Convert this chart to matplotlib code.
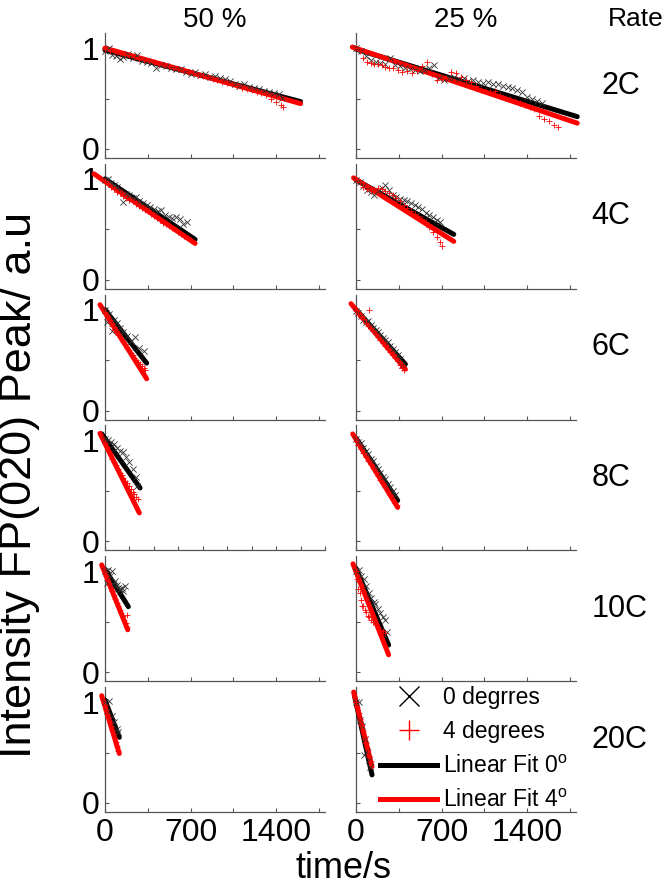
import numpy as np
import matplotlib
matplotlib.use('Agg')
import matplotlib.pyplot as plt
from matplotlib.lines import Line2D
from matplotlib.ticker import FixedLocator

plt.rcParams['font.family'] = ['Liberation Sans', 'DejaVu Sans']
plt.rcParams['mathtext.default'] = 'regular'

rates = ['2C', '4C', '6C', '8C', '10C', '20C']
socs = ['50 %', '25 %']

# ---- 50 % SOC, 0 degrees (black x) ----
t_50_2C_0 = [0, 30, 60, 90, 120, 150, 190, 230, 260, 300, 340, 380, 420, 460, 500, 540, 580, 620, 660, 700,
             740, 780, 820, 860, 900, 940, 980, 1020, 1060, 1100, 1140, 1180, 1220, 1260, 1300, 1340, 1380, 1420, 1450]
I_50_2C_0 = [0.97, 1.00, 0.93, 0.92, 0.89, 0.91, 0.94, 0.90, 0.93, 0.87, 0.86, 0.85, 0.80, 0.83, 0.82, 0.80, 0.79, 0.79, 0.76, 0.74,
             0.76, 0.73, 0.74, 0.71, 0.72, 0.70, 0.69, 0.67, 0.64, 0.62, 0.64, 0.61, 0.60, 0.59, 0.57, 0.56, 0.55, 0.54, 0.51]
t_50_4C_0 = [0, 25, 50, 75, 100, 125, 150, 175, 200, 225, 250, 280, 310, 340, 370, 400, 430, 460, 490, 520, 550, 580, 610, 640, 670]
I_50_4C_0 = [0.99, 1.00, 0.96, 0.94, 0.92, 0.88, 0.77, 0.85, 0.84, 0.81, 0.82, 0.78, 0.76, 0.74, 0.72, 0.70, 0.68, 0.69, 0.64, 0.62,
             0.61, 0.62, 0.60, 0.55, 0.57]
t_50_6C_0 = [0, 15, 30, 55, 75, 95, 120, 150, 180, 210, 245, 280, 315]
I_50_6C_0 = [1.00, 0.88, 0.96, 0.79, 0.90, 0.87, 0.82, 0.78, 0.74, 0.69, 0.73, 0.62, 0.59]
t_50_8C_0 = [0, 25, 50, 75, 100, 125, 150, 175, 200, 225, 250, 265]
I_50_8C_0 = [1.02, 1.01, 0.99, 0.97, 0.93, 0.90, 0.89, 0.84, 0.79, 0.72, 0.64, 0.55]
t_50_10C_0 = [0, 14, 27, 41, 55, 68, 82, 96, 110, 123, 137, 150, 164]
I_50_10C_0 = [1.00, 0.88, 1.01, 0.95, 1.00, 0.87, 0.90, 0.86, 0.83, 0.82, 0.83, 0.80, 0.85]
t_50_20C_0 = [0, 14, 35, 55, 75, 96, 110]
I_50_20C_0 = [1.00, 0.91, 1.01, 0.86, 0.80, 0.73, 0.70]

# ---- 50 % SOC, 4 degrees (red +) ----
t_50_2C_4 = [0, 40, 80, 120, 160, 200, 240, 280, 320, 360, 400, 440, 480, 520, 560, 600, 640, 680, 720, 760,
             800, 840, 880, 920, 960, 1000, 1040, 1080, 1120, 1160, 1200, 1240, 1280, 1320, 1360, 1400, 1440, 1460]
I_50_2C_4 = [0.99, 0.97, 0.96, 0.94, 0.93, 0.93, 0.91, 0.89, 0.88, 0.87, 0.86, 0.84, 0.83, 0.82, 0.80, 0.79, 0.78, 0.76, 0.75, 0.73,
             0.72, 0.71, 0.69, 0.68, 0.66, 0.65, 0.64, 0.62, 0.60, 0.59, 0.58, 0.56, 0.55, 0.53, 0.50, 0.47, 0.44, 0.42]
t_50_4C_4 = [0, 25, 50, 75, 100, 125, 150, 175, 200, 225, 250, 275, 300, 325, 350, 375, 400, 425, 450, 475,
             500, 525, 550, 575, 600, 625, 650, 675, 700]
I_50_4C_4 = [0.98, 0.95, 0.92, 0.90, 0.87, 0.86, 0.83, 0.81, 0.79, 0.78, 0.75, 0.73, 0.71, 0.69, 0.68, 0.65, 0.63, 0.61, 0.59, 0.56,
             0.55, 0.53, 0.51, 0.50, 0.47, 0.45, 0.43, 0.41, 0.39]
t_50_6C_4 = [0, 15, 30, 45, 60, 75, 90, 105, 120, 135, 150, 165, 180, 195, 210, 225, 240, 255, 270, 285, 300, 315, 330]
I_50_6C_4 = [0.98, 0.95, 0.90, 0.87, 0.84, 0.80, 0.78, 0.75, 0.73, 0.70, 0.68, 0.66, 0.62, 0.60, 0.57, 0.55, 0.52, 0.50, 0.48, 0.46,
             0.44, 0.42, 0.40]
t_50_8C_4 = [0, 15, 30, 45, 60, 75, 90, 105, 120, 135, 150, 165, 180, 195, 210, 225, 240, 255, 270]
I_50_8C_4 = [0.98, 0.94, 0.90, 0.87, 0.82, 0.79, 0.76, 0.72, 0.68, 0.66, 0.63, 0.60, 0.58, 0.55, 0.52, 0.49, 0.47, 0.44, 0.42]
t_50_10C_4 = [0, 12, 24, 36, 48, 60, 72, 84, 96, 108, 120, 132, 144, 156, 168, 177, 177]
I_50_10C_4 = [0.99, 0.95, 0.90, 0.86, 0.83, 0.80, 0.77, 0.73, 0.69, 0.66, 0.62, 0.59, 0.56, 0.52, 0.49, 0.45, 0.57]
t_50_20C_4 = [0, 10, 20, 30, 40, 50, 60, 70, 80, 90, 100, 110]
I_50_20C_4 = [0.97, 0.92, 0.88, 0.84, 0.80, 0.76, 0.72, 0.68, 0.64, 0.60, 0.56, 0.52]

# ---- 25 % SOC, 0 degrees (black x) ----
t_25_2C_0 = [0, 40, 80, 120, 160, 200, 240, 280, 320, 360, 400, 440, 480, 520, 560, 600, 640, 680, 720, 760,
             800, 840, 880, 920, 960, 1000, 1040, 1080, 1120, 1160, 1200, 1240, 1280, 1320, 1360, 1400, 1440, 1480, 1520]
I_25_2C_0 = [1.00, 0.97, 0.92, 0.88, 0.86, 0.85, 0.84, 0.90, 0.83, 0.82, 0.80, 0.79, 0.78, 0.77, 0.78, 0.80, 0.83, 0.70, 0.68, 0.70,
             0.71, 0.69, 0.70, 0.67, 0.68, 0.66, 0.65, 0.66, 0.64, 0.64, 0.62, 0.61, 0.60, 0.58, 0.56, 0.52, 0.50, 0.48, 0.46]
t_25_4C_0 = [0, 30, 60, 90, 120, 150, 180, 210, 240, 270, 300, 330, 360, 390, 420, 450, 480, 510, 540, 570, 600, 630, 660, 690]
I_25_4C_0 = [0.99, 0.97, 0.93, 0.89, 0.87, 0.84, 0.88, 0.91, 0.94, 0.89, 0.84, 0.82, 0.80, 0.79, 0.78, 0.76, 0.74, 0.72, 0.70, 0.66,
             0.64, 0.62, 0.59, 0.57]
t_25_6C_0 = [0, 20, 40, 60, 80, 100, 120, 140, 160, 180, 200, 220, 240, 260, 280, 300, 320, 340, 360, 377]
I_25_6C_0 = [0.99, 0.97, 0.94, 0.90, 0.88, 0.89, 0.85, 0.82, 0.80, 0.78, 0.75, 0.72, 0.70, 0.68, 0.64, 0.61, 0.58, 0.55, 0.51, 0.45]
t_25_8C_0 = [0, 20, 40, 60, 80, 100, 120, 140, 160, 180, 200, 220, 240, 260, 280, 300, 322]
I_25_8C_0 = [1.02, 0.99, 0.98, 0.93, 0.90, 0.87, 0.82, 0.80, 0.75, 0.72, 0.68, 0.64, 0.62, 0.57, 0.54, 0.50, 0.46]
t_25_10C_0 = [0, 22, 40, 63, 85, 104, 125, 145, 158, 180, 199, 220, 240, 254]
I_25_10C_0 = [1.00, 1.01, 0.95, 0.92, 0.85, 0.78, 0.74, 0.70, 0.68, 0.63, 0.59, 0.55, 0.52, 0.40]
t_25_20C_0 = [0, 22, 35, 50, 63, 76, 90, 104, 117]
I_25_20C_0 = [1.00, 1.00, 0.82, 0.76, 0.48, 0.63, 0.52, 0.43, 0.36]

# ---- 25 % SOC, 4 degrees (red +) ----
t_25_2C_4 = [0, 30, 60, 90, 120, 150, 180, 210, 240, 270, 300, 340, 380, 420, 460, 500, 540, 580, 620, 660,
             700, 740, 780, 820, 860, 900, 940, 980, 1020, 1060, 1100, 1140, 1180, 1220, 1260, 1300, 1340, 1380, 1420, 1460,
             1500, 1540, 1580, 1620, 1650]
I_25_2C_4 = [1.00, 0.97, 0.90, 0.86, 0.85, 0.84, 0.84, 0.83, 0.81, 0.80, 0.80, 0.78, 0.76, 0.77, 0.75, 0.78, 0.82, 0.86, 0.74, 0.68,
             0.69, 0.70, 0.76, 0.75, 0.71, 0.68, 0.66, 0.62, 0.58, 0.57, 0.56, 0.57, 0.53, 0.51, 0.50, 0.48, 0.46, 0.44, 0.42, 0.40,
             0.33, 0.30, 0.28, 0.24, 0.22]
t_25_4C_4 = [0, 30, 60, 90, 120, 150, 180, 210, 240, 270, 300, 330, 360, 390, 420, 450, 480, 510, 540, 570,
             600, 630, 660, 690, 705]
I_25_4C_4 = [1.00, 0.97, 0.92, 0.90, 0.88, 0.90, 0.91, 0.90, 0.88, 0.86, 0.84, 0.81, 0.78, 0.74, 0.71, 0.68, 0.65, 0.63, 0.60, 0.57,
             0.52, 0.47, 0.42, 0.37, 0.33]
t_25_6C_4 = [0, 20, 40, 60, 80, 104, 100, 120, 140, 160, 180, 200, 220, 240, 260, 280, 300, 320, 340, 360, 380, 390]
I_25_6C_4 = [1.00, 0.96, 0.93, 0.91, 0.87, 1.00, 0.84, 0.82, 0.79, 0.76, 0.73, 0.70, 0.68, 0.64, 0.61, 0.58, 0.55, 0.52, 0.49, 0.45,
             0.42, 0.40]
t_25_8C_4 = [0, 20, 40, 60, 80, 100, 120, 140, 160, 180, 200, 220, 240, 260, 280, 300, 320, 336]
I_25_8C_4 = [1.00, 0.96, 0.92, 0.88, 0.84, 0.80, 0.77, 0.73, 0.69, 0.65, 0.61, 0.58, 0.54, 0.50, 0.46, 0.42, 0.38, 0.36]
t_25_10C_4 = [0, 10, 20, 30, 40, 50, 60, 70, 80, 95, 110, 125, 140, 160, 180, 200, 220, 240]
I_25_10C_4 = [1.00, 0.92, 0.82, 0.78, 0.72, 0.66, 0.66, 0.62, 0.60, 0.56, 0.55, 0.52, 0.50, 0.48, 0.45, 0.42, 0.41, 0.39]
t_25_20C_4 = [0, 12, 24, 36, 48, 60, 72, 84, 96, 108, 120]
I_25_20C_4 = [1.00, 0.95, 0.89, 0.83, 0.77, 0.71, 0.65, 0.59, 0.53, 0.47, 0.42]

# linear fits: (t_start, t_end, intercept, slope), one per rate
fit_50_0 = [(0, 1600, 0.98, -0.000319), (0, 737, 1.00, -0.000814), (0, 341, 1.00, -0.001554),
            (-27, 287, 1.02, -0.00171), (0, 191, 1.02, -0.00194), (0, 117, 1.02, -0.00316)]
fit_50_4 = [(0, 1600, 1.00, -0.000344), (-90, 737, 0.975, -0.000834), (-41, 341, 0.971, -0.001924),
            (-41, 281, 0.97, -0.00245), (-27, 186, 0.982, -0.00302), (-27, 117, 0.956, -0.00398)]
fit_25_0 = [(0, 1810, 0.99, -0.00037), (0, 800, 0.99, -0.000675), (0, 404, 1.00, -0.001337),
            (0, 341, 1.023, -0.00181), (0, 267, 1.03, -0.00285), (-14, 131, 0.996, -0.00548)]
fit_25_4 = [(-30, 1810, 0.998, -0.00041), (-20, 800, 0.995, -0.000768), (-41, 404, 1.00, -0.00146),
            (-27, 341, 1.012, -0.00198), (-25, 267, 0.997, -0.00309), (-19, 131, 1.006, -0.00493)]

data_0 = [
    [(t_50_2C_0, I_50_2C_0), (t_50_4C_0, I_50_4C_0), (t_50_6C_0, I_50_6C_0),
     (t_50_8C_0, I_50_8C_0), (t_50_10C_0, I_50_10C_0), (t_50_20C_0, I_50_20C_0)],
    [(t_25_2C_0, I_25_2C_0), (t_25_4C_0, I_25_4C_0), (t_25_6C_0, I_25_6C_0),
     (t_25_8C_0, I_25_8C_0), (t_25_10C_0, I_25_10C_0), (t_25_20C_0, I_25_20C_0)],
]
data_4 = [
    [(t_50_2C_4, I_50_2C_4), (t_50_4C_4, I_50_4C_4), (t_50_6C_4, I_50_6C_4),
     (t_50_8C_4, I_50_8C_4), (t_50_10C_4, I_50_10C_4), (t_50_20C_4, I_50_20C_4)],
    [(t_25_2C_4, I_25_2C_4), (t_25_4C_4, I_25_4C_4), (t_25_6C_4, I_25_6C_4),
     (t_25_8C_4, I_25_8C_4), (t_25_10C_4, I_25_10C_4), (t_25_20C_4, I_25_20C_4)],
]
fits_0 = [fit_50_0, fit_25_0]
fits_4 = [fit_50_4, fit_25_4]

W, H = 666, 885
fig = plt.figure(figsize=(W / 100, H / 100), dpi=100)

col_x = [105, 356]
ax_w, ax_h = 220, 125
spine_col = '#555555'

for i, rate in enumerate(rates):
    bottom = 158 + 130.8 * i
    for j, soc in enumerate(socs):
        ax = fig.add_axes([col_x[j] / W, 1 - bottom / H, ax_w / W, ax_h / H])
        for (ts, te, b, m), col in ((fits_0[j][i], 'black'), (fits_4[j][i], 'red')):
            tt = np.array([ts, te], dtype=float)
            ax.plot(tt, b + m * tt, color=col, lw=3.6, solid_capstyle='round',
                    clip_on=False, zorder=3)
        t0, y0 = data_0[j][i]
        t4, y4 = data_4[j][i]
        ax.scatter(t0, y0, marker='x', s=20, c='#333333', linewidths=0.6, clip_on=False, zorder=4)
        ax.scatter(t4, y4, marker='+', s=24, c='red', linewidths=0.6, clip_on=False, zorder=4)

        ax.set_xlim(0, 1800)
        ax.set_ylim(-0.09, 1.15)
        for s in ['top', 'right']:
            ax.spines[s].set_visible(False)
        for s in ['left', 'bottom']:
            ax.spines[s].set_color(spine_col)
            ax.spines[s].set_linewidth(0.9)

        ax.set_yticks([0, 1])
        ax.yaxis.set_minor_locator(FixedLocator([0.5]))
        if i == 3 and j == 0:
            ax.set_xticks(range(0, 1801, 200))
        else:
            ax.set_xticks([0, 700, 1400])
            ax.xaxis.set_minor_locator(FixedLocator([350, 1050, 1750]))
        ax.tick_params(which='both', direction='in', length=3, width=0.8, color=spine_col,
                       labelsize=23, pad=4)
        if j == 1:
            ax.set_yticklabels([])
        if i < len(rates) - 1:
            ax.set_xticklabels([])

        if j == 1:
            ax.text(1.115 if i == 0 else 1.07, 0.58, rate, transform=ax.transAxes,
                    fontsize=22, ha='left', va='center')
        if i == 0:
            ax.text(0.5, 1.0, soc, transform=ax.transAxes, fontsize=20,
                    ha='center', va='bottom')
        if i == len(rates) - 1 and j == 1:
            handles = [
                Line2D([], [], ls='none', marker='x', color='black', markersize=14, mew=1.0),
                Line2D([], [], ls='none', marker='+', color='red', markersize=14, mew=1.0),
                Line2D([], [], color='black', lw=3.6),
                Line2D([], [], color='red', lw=3.6),
            ]
            labels = ['0 degrres', '4 degrees', 'Linear Fit 0$^o$', 'Linear Fit 4$^o$']
            fig.legend(handles, labels, loc='upper left', bbox_to_anchor=(380 / W, 1 - 686 / H),
                       frameon=False, fontsize=16.5, handlelength=2.5, handletextpad=0.25,
                       borderpad=0, borderaxespad=0, labelspacing=0.5)

fig.text(636 / W, 1 - 19 / H, 'Rate', fontsize=19, ha='center', va='center')
fig.text(20 / W, 1 - 485 / H, 'Intensity FP(020) Peak/ a.u', fontsize=32.5,
         rotation=90, ha='center', va='center')
fig.text(344 / W, 1 - 869 / H, 'time/s', fontsize=26, ha='center', va='center')

fig.savefig('out.png', dpi=100)
